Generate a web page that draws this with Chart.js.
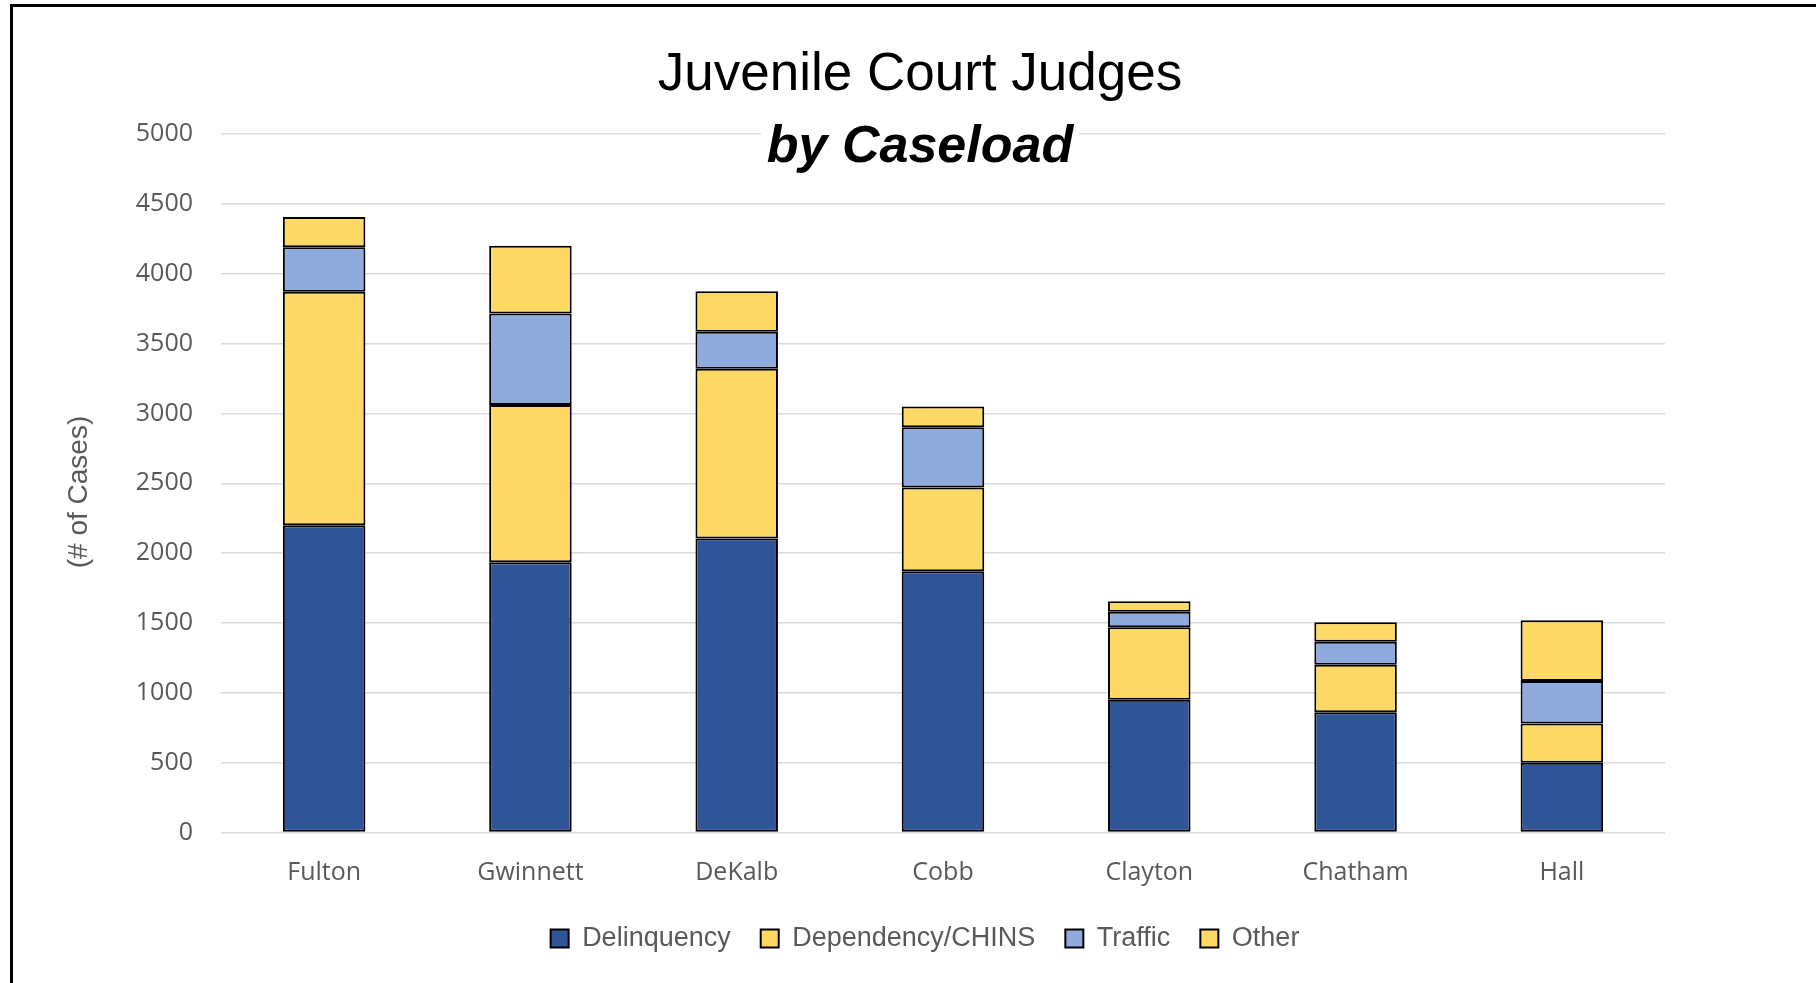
<!DOCTYPE html>
<html>
<head>
<meta charset="utf-8">
<title>Juvenile Court Judges by Caseload</title>
<script src="https://cdn.jsdelivr.net/npm/chart.js@4.4.0/dist/chart.umd.min.js"></script>
<style>
  html, body { margin: 0; padding: 0; background: #fff; }
  #wrap { position: relative; width: 1816px; height: 983px; overflow: hidden; }
  #frame { position: absolute; left: 10px; top: 4px; right: -10px; bottom: -10px; border-top: 3px solid #000; border-left: 3px solid #000; }
  #canvas { position: absolute; left: 0; top: 0; }
</style>
</head>
<body>
<div id="wrap">
  <div id="frame"></div>
  <canvas id="canvas" width="1816" height="983"></canvas>
</div>
<script>
const counties = ['Fulton', 'Gwinnett', 'DeKalb', 'Cobb', 'Clayton', 'Chatham', 'Hall'];
const delinquency = [2200, 1935, 2105, 1870, 950, 860, 500];
const dependency = [1670, 1125, 1215, 600, 520, 340, 280];
const traffic = [320, 655, 265, 430, 110, 165, 305];
const other = [215, 485, 290, 150, 75, 140, 435];
const yTicks = [0, 500, 1000, 1500, 2000, 2500, 3000, 3500, 4000, 4500, 5000];

const navy = '#2F5597';
const yellow = '#FFD966';
const lightBlue = '#8FAADC';
const gray = '#595959';

// titles sit over the top of the plot like in excel, so draw them by hand
const titlePlugin = {
  id: 'titles',
  afterDraw(chart) {
    const ctx = chart.ctx;
    ctx.save();
    ctx.textAlign = 'center';
    ctx.textBaseline = 'alphabetic';
    ctx.fillStyle = '#000';
    ctx.font = '53px "Liberation Sans", Arial, sans-serif';
    ctx.fillText('Juvenile Court Judges', 920, 90);
    ctx.font = 'italic bold 52px "Liberation Sans", Arial, sans-serif';
    const w = ctx.measureText('by Caseload').width;
    ctx.fillStyle = '#fff';
    ctx.fillRect(920 - w / 2 - 6, 114, w + 12, 66);
    ctx.fillStyle = '#000';
    ctx.fillText('by Caseload', 920, 162);

    ctx.translate(79, 492);
    ctx.rotate(-Math.PI / 2);
    ctx.textBaseline = 'middle';
    ctx.font = '28px "Liberation Sans", Arial, sans-serif';
    ctx.fillStyle = gray;
    ctx.fillText('(# of Cases)', 0, 0);
    ctx.restore();
  }
};

function makeSet(label, values, color) {
  return {
    label: label,
    data: values,
    backgroundColor: color,
    borderColor: '#000',
    borderWidth: 2,
    borderSkipped: false,
    barPercentage: 0.4,
    categoryPercentage: 1
  };
}

const ctx = document.getElementById('canvas').getContext('2d');
new Chart(ctx, {
  type: 'bar',
  data: {
    labels: counties,
    datasets: [
      makeSet('Delinquency', delinquency, navy),
      makeSet('Dependency/CHINS', dependency, yellow),
      makeSet('Traffic', traffic, lightBlue),
      makeSet('Other', other, yellow)
    ]
  },
  options: {
    responsive: false,
    animation: false,
    layout: { padding: { top: 134, right: 0, bottom: 21, left: 34 } },
    plugins: {
      tooltip: { enabled: false },
      legend: {
        position: 'bottom',
        labels: {
          boxWidth: 18,
          boxHeight: 18,
          padding: 30,
          color: gray,
          font: { family: '"Liberation Sans", Arial, sans-serif', size: 27 }
        }
      }
    },
    scales: {
      x: {
        stacked: true,
        grid: { display: false },
        border: { display: false },
        ticks: {
          color: gray,
          padding: 17,
          maxRotation: 0,
          font: { family: '"Open Sans", sans-serif', size: 25 }
        },
        afterFit(scale) { scale.height = 62.5; }
      },
      y: {
        stacked: true,
        min: 0,
        max: 5000,
        afterBuildTicks(axis) { axis.ticks = yTicks.map(v => ({ value: v })); },
        grid: { color: '#D9D9D9', lineWidth: 1.5, drawTicks: false },
        border: { display: false },
        ticks: {
          color: gray,
          padding: 28,
          font: { family: '"Open Sans", sans-serif', size: 25 },
          callback: v => String(v)
        },
        afterFit(scale) { scale.width = 187; }
      },
      // empty right margin so the plot ends where the excel one does
      spacer: {
        type: 'linear',
        position: 'right',
        grid: { drawOnChartArea: false, drawTicks: false },
        border: { display: false },
        ticks: { display: false },
        afterFit(scale) { scale.width = 151; }
      }
    }
  },
  plugins: [titlePlugin]
});
</script>
</body>
</html>
